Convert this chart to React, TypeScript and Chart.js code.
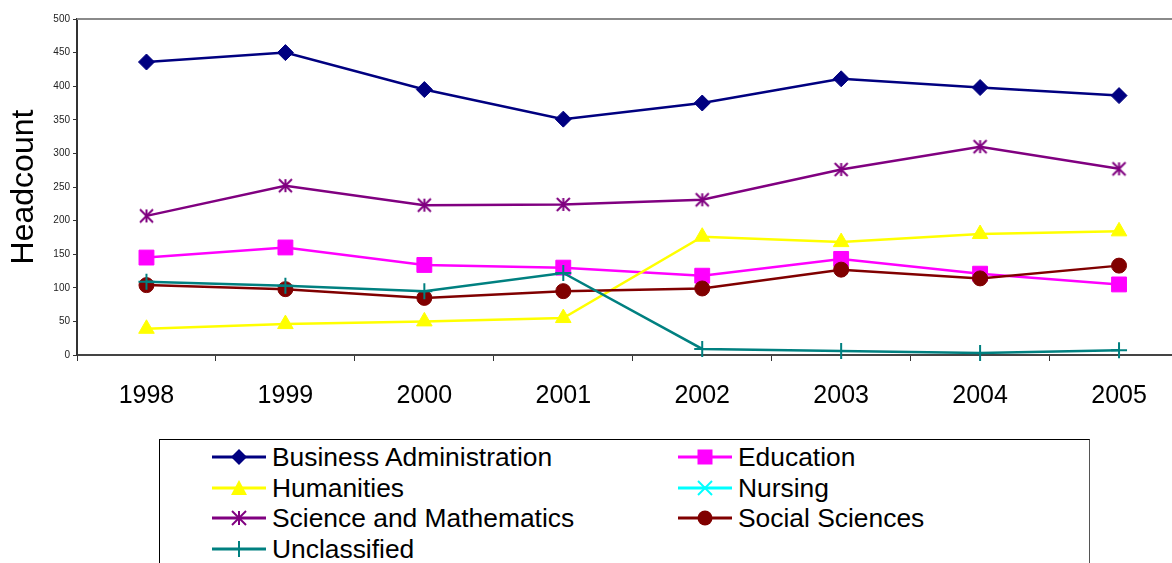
import React, { useEffect, useRef } from 'react';
import { Chart, registerables } from 'chart.js';

Chart.register(...registerables);

const years = ['1998', '1999', '2000', '2001', '2002', '2003', '2004', '2005'];
const businessAdmin = [436, 450, 395, 351, 375, 411, 398, 386];
const education = [145, 160, 134, 130, 118, 143, 121, 105];
const humanities = [39, 46, 50, 55, 176, 168, 180, 184];
const nursing: (number | null)[] = [null, null, null, null, null, null, null, null];
const scienceMath = [207, 252, 223, 224, 231, 276, 310, 277];
const socialSciences = [104, 98, 85, 95, 99, 127, 114, 133];
const unclassified = [109, 103, 95, 122, 9, 6, 3, 7];
const yTicks = [0, 50, 100, 150, 200, 250, 300, 350, 400, 450, 500];

const FONT = '"Liberation Sans", Arial, Helvetica, sans-serif';

type Marker = 'diamond' | 'square' | 'triangle' | 'x' | 'asterisk' | 'circle' | 'plus';

const legendItems: { name: string; color: string; marker: Marker; col: number; row: number }[] = [
  { name: 'Business Administration', color: '#000080', marker: 'diamond', col: 0, row: 0 },
  { name: 'Education', color: '#FF00FF', marker: 'square', col: 1, row: 0 },
  { name: 'Humanities', color: '#FFFF00', marker: 'triangle', col: 0, row: 1 },
  { name: 'Nursing', color: '#00FFFF', marker: 'x', col: 1, row: 1 },
  { name: 'Science and Mathematics', color: '#800080', marker: 'asterisk', col: 0, row: 2 },
  { name: 'Social Sciences', color: '#800000', marker: 'circle', col: 1, row: 2 },
  { name: 'Unclassified', color: '#008080', marker: 'plus', col: 0, row: 3 },
];

function makeAsterisk(color: string, r: number): HTMLCanvasElement {
  const s = Math.ceil(r * 2 + 4);
  const c = document.createElement('canvas');
  c.width = s;
  c.height = s;
  const ctx = c.getContext('2d')!;
  const m = s / 2;
  ctx.strokeStyle = color;
  ctx.lineWidth = 2;
  ctx.beginPath();
  ctx.moveTo(m, m - r);
  ctx.lineTo(m, m + r);
  ctx.moveTo(m - r, m - r);
  ctx.lineTo(m + r, m + r);
  ctx.moveTo(m + r, m - r);
  ctx.lineTo(m - r, m + r);
  ctx.stroke();
  return c;
}

const framePlugin = {
  id: 'frame',
  beforeDatasetsDraw(chart: any) {
    const { ctx, chartArea } = chart;
    const { left, top, right, bottom } = chartArea;
    ctx.save();
    ctx.strokeStyle = '#8a8a8a';
    ctx.lineWidth = 2;
    ctx.beginPath();
    ctx.moveTo(left, top);
    ctx.lineTo(right, top);
    ctx.lineTo(right, bottom);
    ctx.stroke();
    ctx.restore();
  },
};

function LegendMarker({ color, marker }: { color: string; marker: Marker }) {
  const cx = 27;
  const cy = 15;
  let shape: React.ReactNode = null;
  if (marker === 'diamond') {
    shape = <polygon points={`${cx},${cy - 8} ${cx + 8},${cy} ${cx},${cy + 8} ${cx - 8},${cy}`} fill={color} />;
  } else if (marker === 'square') {
    shape = <rect x={cx - 7.5} y={cy - 7.5} width={15} height={15} fill={color} />;
  } else if (marker === 'triangle') {
    shape = <polygon points={`${cx},${cy - 8} ${cx + 8},${cy + 7} ${cx - 8},${cy + 7}`} fill={color} />;
  } else if (marker === 'circle') {
    shape = <circle cx={cx} cy={cy} r={7.5} fill={color} />;
  } else if (marker === 'x') {
    shape = (
      <g stroke={color} strokeWidth={2}>
        <line x1={cx - 7} y1={cy - 7} x2={cx + 7} y2={cy + 7} />
        <line x1={cx + 7} y1={cy - 7} x2={cx - 7} y2={cy + 7} />
      </g>
    );
  } else if (marker === 'asterisk') {
    shape = (
      <g stroke={color} strokeWidth={2}>
        <line x1={cx} y1={cy - 7} x2={cx} y2={cy + 7} />
        <line x1={cx - 7} y1={cy - 7} x2={cx + 7} y2={cy + 7} />
        <line x1={cx + 7} y1={cy - 7} x2={cx - 7} y2={cy + 7} />
      </g>
    );
  } else if (marker === 'plus') {
    shape = (
      <g stroke={color} strokeWidth={2}>
        <line x1={cx} y1={cy - 8} x2={cx} y2={cy + 8} />
      </g>
    );
  }
  return (
    <svg width={54} height={31} style={{ display: 'block', flex: '0 0 auto' }}>
      <line x1={0} y1={cy} x2={54} y2={cy} stroke={color} strokeWidth={3} />
      {shape}
    </svg>
  );
}

export default function App() {
  const canvasRef = useRef<HTMLCanvasElement | null>(null);

  useEffect(() => {
    if (!canvasRef.current) return;
    const asterisk = makeAsterisk('#800080', 6.5);
    const base = {
      borderWidth: 2.5,
      pointBorderWidth: 1,
      fill: false,
      tension: 0,
      clip: false as any,
      spanGaps: false,
    };
    const chart = new Chart(canvasRef.current, {
      type: 'line',
      data: {
        labels: years,
        datasets: [
          { ...base, label: 'Business Administration', data: businessAdmin, borderColor: '#000080', backgroundColor: '#000080', pointStyle: 'rectRot', pointRadius: 8, order: 7 },
          { ...base, label: 'Education', data: education, borderColor: '#FF00FF', backgroundColor: '#FF00FF', pointStyle: 'rect', pointRadius: 10.5, order: 6 },
          { ...base, label: 'Humanities', data: humanities, borderColor: '#FFFF00', backgroundColor: '#FFFF00', pointStyle: 'triangle', pointRadius: 9, order: 5 },
          { ...base, label: 'Nursing', data: nursing, borderColor: '#00FFFF', backgroundColor: '#00FFFF', pointStyle: 'crossRot', pointRadius: 7, pointBorderWidth: 2, order: 4 },
          { ...base, label: 'Science and Mathematics', data: scienceMath, borderColor: '#800080', backgroundColor: '#800080', pointStyle: asterisk as any, pointRadius: 7, order: 3 },
          { ...base, label: 'Social Sciences', data: socialSciences, borderColor: '#800000', backgroundColor: '#800000', pointStyle: 'circle', pointRadius: 7.5, order: 2 },
          { ...base, label: 'Unclassified', data: unclassified, borderColor: '#008080', backgroundColor: '#008080', pointStyle: 'cross', pointRadius: 8, pointBorderWidth: 2, order: 1 },
        ] as any,
      },
      options: {
        responsive: false,
        animation: false,
        devicePixelRatio: 1,
        layout: { padding: { top: 19, left: 0, right: 11, bottom: 0 } },
        plugins: {
          legend: { display: false },
          tooltip: { enabled: false },
          title: { display: false },
        },
        scales: {
          x: {
            type: 'category',
            offset: true,
            afterFit: (scale: any) => {
              scale.height = 75;
            },
            grid: {
              display: true,
              offset: true,
              drawOnChartArea: false,
              drawTicks: true,
              tickLength: 6,
              tickColor: '#333333',
              color: '#333333',
            },
            border: { display: true, color: '#444444', width: 2 },
            ticks: {
              autoSkip: false,
              maxRotation: 0,
              padding: 20,
              color: '#000000',
              font: { family: FONT, size: 25 },
            },
          },
          y: {
            type: 'linear',
            min: 0,
            max: 500,
            afterFit: (scale: any) => {
              scale.width = 77;
            },
            afterBuildTicks: (scale: any) => {
              scale.ticks = yTicks.map((v) => ({ value: v }));
            },
            grid: {
              display: true,
              drawOnChartArea: false,
              drawTicks: true,
              tickLength: 4,
              tickColor: '#333333',
              color: '#333333',
            },
            border: { display: true, color: '#333333', width: 2 },
            ticks: {
              padding: 3,
              color: '#222222',
              font: { family: FONT, size: 10 },
            },
            title: {
              display: true,
              text: 'Headcount',
              color: '#000000',
              font: { family: FONT, size: 32, lineHeight: 1.2 },
              padding: { top: 5, bottom: 0 },
            },
          },
        },
      },
      plugins: [framePlugin],
    });
    return () => chart.destroy();
  }, []);

  return (
    <div
      style={{
        position: 'absolute',
        left: 0,
        top: 0,
        width: 1172,
        height: 563,
        overflow: 'hidden',
        background: '#ffffff',
      }}
    >
      <canvas
        ref={canvasRef}
        width={1200}
        height={430}
        style={{ position: 'absolute', left: 0, top: 0, display: 'block' }}
      />
      <div
        style={{
          position: 'absolute',
          left: 159,
          top: 439,
          width: 931,
          height: 160,
          boxSizing: 'border-box',
          border: '1px solid #000000',
          borderRightColor: '#555555',
          background: '#ffffff',
          fontFamily: FONT,
        }}
      >
        {legendItems.map((it) => (
          <div
            key={it.name}
            style={{
              position: 'absolute',
              left: it.col === 0 ? 52 : 518,
              top: 2 + it.row * 30.7,
              height: 31,
              display: 'flex',
              alignItems: 'center',
              whiteSpace: 'nowrap',
            }}
          >
            <LegendMarker color={it.color} marker={it.marker} />
            <span style={{ marginLeft: 6, fontSize: 26.4, lineHeight: '31px', color: '#000000' }}>{it.name}</span>
          </div>
        ))}
      </div>
    </div>
  );
}
